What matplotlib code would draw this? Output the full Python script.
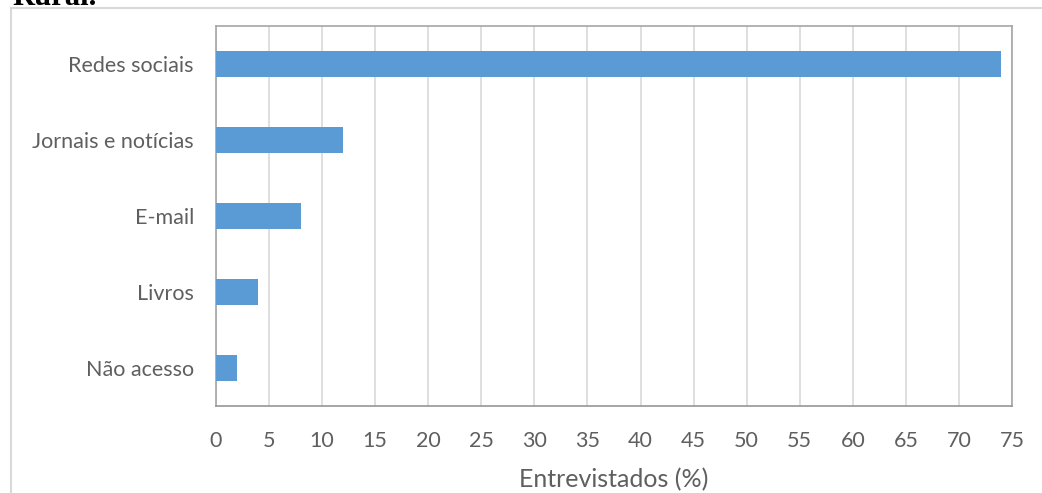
import matplotlib.pyplot as plt
from matplotlib.lines import Line2D

categories = ['Redes sociais', 'Jornais e notícias', 'E-mail', 'Livros', 'Não acesso']
values = [74, 12, 8, 4, 2]
xticks = list(range(0, 80, 5))

plt.rcParams['font.family'] = ['Lato', 'DejaVu Sans']

fig = plt.figure(figsize=(10.42, 4.93), dpi=100)
ax = fig.add_axes([216 / 1042, 1 - 406 / 493, (1012 - 216) / 1042, (406 - 26) / 493])

ax.barh(categories, values, height=0.33, color='#5b9bd5', zorder=3)
ax.set_ylim(len(categories) - 0.5, -0.5)
ax.set_xlim(0, 75)
ax.set_xticks(xticks)
ax.grid(axis='x', color='#d9d9d9', linewidth=1.2, zorder=0)

for s in ax.spines.values():
    s.set_color('#a6a6a6')
    s.set_linewidth(1.2)
ax.spines['bottom'].set_color('#969696')

ax.tick_params(axis='both', length=0, labelsize=15.5, labelcolor='#5f5f5f')
ax.tick_params(axis='y', pad=16)
ax.tick_params(axis='x', pad=18)
ax.set_xlabel('Entrevistados (%)', fontsize=18, color='#5f5f5f', labelpad=12)

# outer chart frame (partly cropped)
fig.add_artist(Line2D([11 / 1042, 11 / 1042], [0, 1 - 8 / 493], color='#d9d9d9', lw=1.5,
                      transform=fig.transFigure))
fig.add_artist(Line2D([11 / 1042, 1], [1 - 8 / 493, 1 - 8 / 493], color='#d9d9d9', lw=1.5,
                      transform=fig.transFigure))

# cropped text from the page above
fig.text(12 / 1042, 1 - 5 / 493, 'Rural.', fontsize=22, family='Liberation Serif',
         weight='bold', va='baseline', ha='left')

fig.savefig('out.png', dpi=100)
